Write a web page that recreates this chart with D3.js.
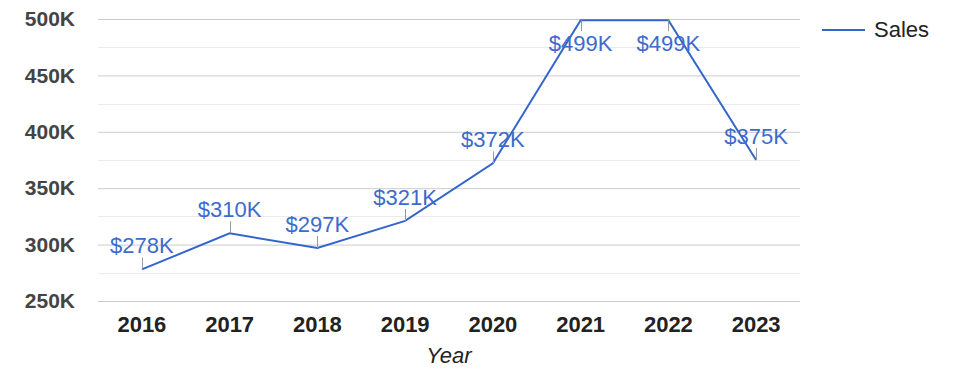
<!DOCTYPE html>
<html>
<head>
<meta charset="utf-8">
<script src="https://cdn.jsdelivr.net/npm/d3@7"></script>
<style>
  body { margin: 0; background: #fff; }
  svg { font-family: Arial, "Liberation Sans", sans-serif; }
</style>
</head>
<body>
<div id="chart"></div>
<script>
// data
var years = ["2016", "2017", "2018", "2019", "2020", "2021", "2022", "2023"];
var sales = [278000, 310000, 297000, 321000, 372000, 499000, 499000, 375000];
var yTicks = [250000, 300000, 350000, 400000, 450000, 500000];
var yMinor = [275000, 325000, 375000, 425000, 475000];

var width = 975, height = 378;
var plotLeft = 98, plotRight = 800, plotTop = 19, plotBottom = 301;
var lineColor = "#3366cc";

var svg = d3.select("#chart").append("svg")
    .attr("width", width)
    .attr("height", height);

var x = d3.scaleBand().domain(years).range([plotLeft, plotRight]);
var y = d3.scaleLinear().domain([250000, 500000]).range([plotBottom, plotTop]);

// minor gridlines
svg.append("g").selectAll("line")
    .data(yMinor)
    .enter().append("line")
    .attr("x1", plotLeft).attr("x2", plotRight)
    .attr("y1", function(d) { return Math.round(y(d)) + 0.5; })
    .attr("y2", function(d) { return Math.round(y(d)) + 0.5; })
    .attr("stroke", "#ebebeb");

// major gridlines + labels
var yAxis = d3.axisLeft(y)
    .tickValues(yTicks)
    .tickSize(-(plotRight - plotLeft))
    .tickPadding(23)
    .tickFormat(function(d) { return (d / 1000) + "K"; });

var gy = svg.append("g")
    .attr("transform", "translate(" + plotLeft + ",0)")
    .call(yAxis);
gy.select(".domain").remove();
gy.selectAll(".tick line").attr("stroke", "#cccccc");
gy.selectAll(".tick text")
    .attr("fill", "#444")
    .attr("font-size", 21)
    .attr("font-weight", "bold")
    .attr("font-family", "Arial, 'Liberation Sans', sans-serif");

// x axis labels
var xAxis = d3.axisBottom(x).tickSize(0).tickPadding(15);
var gx = svg.append("g")
    .attr("transform", "translate(0," + plotBottom + ")")
    .call(xAxis);
gx.select(".domain").remove();
gx.selectAll(".tick text")
    .attr("fill", "#222")
    .attr("font-size", 22)
    .attr("font-weight", "bold")
    .attr("font-family", "Arial, 'Liberation Sans', sans-serif");

svg.append("text")
    .attr("x", (plotLeft + plotRight) / 2)
    .attr("y", 363)
    .attr("text-anchor", "middle")
    .attr("font-size", 22)
    .attr("font-style", "italic")
    .attr("fill", "#222")
    .text("Year");

var pts = years.map(function(yr, i) { return { year: yr, value: sales[i] }; });

var line = d3.line()
    .x(function(d) { return x(d.year) + x.bandwidth() / 2; })
    .y(function(d) { return y(d.value); });

svg.append("path")
    .datum(pts)
    .attr("fill", "none")
    .attr("stroke", lineColor)
    .attr("stroke-width", 2)
    .attr("d", line);

// annotations: stem + value label, flipped below near the top
var ann = svg.append("g").selectAll("g")
    .data(pts)
    .enter().append("g");

function below(d) { return y(d.value) < 60; }

ann.append("line")
    .attr("x1", function(d) { return Math.round(x(d.year) + x.bandwidth() / 2) + 0.5; })
    .attr("x2", function(d) { return Math.round(x(d.year) + x.bandwidth() / 2) + 0.5; })
    .attr("y1", function(d) { return y(d.value); })
    .attr("y2", function(d) { return below(d) ? y(d.value) + 11 : y(d.value) - 12; })
    .attr("stroke", "#999");

ann.append("text")
    .attr("x", function(d) { return x(d.year) + x.bandwidth() / 2; })
    .attr("y", function(d) { return below(d) ? y(d.value) + 31 : y(d.value) - 16; })
    .attr("text-anchor", "middle")
    .attr("font-size", 22)
    .attr("fill", "#3d6bcc")
    .text(function(d) { return "$" + Math.round(d.value / 1000) + "K"; });

// legend
var lg = svg.append("g").attr("transform", "translate(822,30)");
lg.append("line")
    .attr("x1", 0).attr("x2", 43)
    .attr("stroke", lineColor)
    .attr("stroke-width", 2);
lg.append("text")
    .attr("x", 52).attr("y", 7)
    .attr("font-size", 22)
    .attr("fill", "#222")
    .text("Sales");
</script>
</body>
</html>
